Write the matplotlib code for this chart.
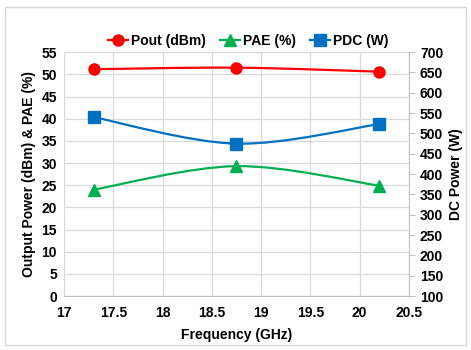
import matplotlib.pyplot as plt
from matplotlib.path import Path
from matplotlib.patches import PathPatch, FancyBboxPatch
from matplotlib.lines import Line2D
import numpy as np

plt.rcParams['font.family'] = ['Liberation Sans', 'DejaVu Sans']
plt.rcParams['font.weight'] = 'bold'
plt.rcParams['axes.labelweight'] = 'bold'

freq = [17.3, 18.75, 20.2]
pout = [51.15, 51.5, 50.6]
pae = [24.0, 29.3, 24.9]
pdc = [540, 475, 523]

xticks = [17, 17.5, 18, 18.5, 19, 19.5, 20, 20.5]
xlabels = ['17', '17.5', '18', '18.5', '19', '19.5', '20', '20.5']
yticks = list(range(0, 56, 5))
y2ticks = list(range(100, 701, 50))

red = '#FF0000'
green = '#00B050'
blue = '#0070C0'
grid_c = '#D9D9D9'


def smooth_path(x, y, t=1/6.):
    # excel style smoothed line: bezier segments with catmull-rom control points
    x = np.asarray(x, float); y = np.asarray(y, float)
    n = len(x)
    verts = [(x[0], y[0])]
    codes = [Path.MOVETO]
    for i in range(n - 1):
        x0, y0 = (x[i-1], y[i-1]) if i > 0 else (x[i], y[i])
        x3, y3 = (x[i+2], y[i+2]) if i + 2 < n else (x[i+1], y[i+1])
        c1 = (x[i] + (x[i+1] - x0) * t, y[i] + (y[i+1] - y0) * t)
        c2 = (x[i+1] - (x3 - x[i]) * t, y[i+1] - (y3 - y[i]) * t)
        verts += [c1, c2, (x[i+1], y[i+1])]
        codes += [Path.CURVE4] * 3
    return Path(verts, codes)


fig = plt.figure(figsize=(4.71, 3.5), dpi=100)
fig.patches.append(FancyBboxPatch((0.011, 0.014), 0.978, 0.966, boxstyle='square,pad=0',
                                  transform=fig.transFigure, fill=False,
                                  edgecolor='#D9D9D9', linewidth=1))
ax = fig.add_axes([0.136, 0.154, 0.732, 0.697])
ax2 = ax.twinx()

ax.set_xlim(17, 20.5)
ax.set_ylim(0, 55)
ax2.set_ylim(100, 700)
tkw = dict(fontweight='bold', fontsize=10)
ax.set_xticks(xticks, xlabels, **tkw)
ax.set_yticks(yticks, [str(v) for v in yticks], **tkw)
ax2.set_yticks(y2ticks, [str(v) for v in y2ticks], **tkw)

ax.grid(True, color=grid_c, linewidth=0.9)
ax.set_axisbelow(True)
for s in ['top', 'left', 'right']:
    ax.spines[s].set_visible(False)
for s in ['top', 'left', 'bottom']:
    ax2.spines[s].set_visible(False)
ax.spines['bottom'].set_color('#BFBFBF')
ax2.spines['right'].set_color('#BFBFBF')

ax.tick_params(axis='x', length=0, pad=7)
ax.tick_params(axis='y', length=0, pad=5)
ax2.tick_params(axis='y', length=4, color='#BFBFBF', pad=4)

lw = 1.6
ax.add_patch(PathPatch(smooth_path(freq, pout), fill=False, edgecolor=red, lw=lw))
ax.add_patch(PathPatch(smooth_path(freq, pae), fill=False, edgecolor=green, lw=lw))
ax2.add_patch(PathPatch(smooth_path(freq, pdc), fill=False, edgecolor=blue, lw=lw))
ax.plot(freq, pout, 'o', color=red, ms=8, zorder=5)
ax.plot(freq, pae, '^', color=green, ms=8, zorder=5)
ax2.plot(freq, pdc, 's', color=blue, ms=8, zorder=5)

ax.set_xlabel('Frequency (GHz)', fontsize=10, labelpad=6)
ax.set_ylabel('Output Power (dBm) & PAE (%)', fontsize=10, labelpad=4)
ax2.set_ylabel('DC Power (W)', fontsize=10, labelpad=4)

handles = [Line2D([], [], color=red, marker='o', ms=8, lw=lw),
           Line2D([], [], color=green, marker='^', ms=8, lw=lw),
           Line2D([], [], color=blue, marker='s', ms=8, lw=lw)]
fig.legend(handles, ['Pout (dBm)', 'PAE (%)', 'PDC (W)'], loc='center',
           bbox_to_anchor=(0.527, 0.883), ncol=3, frameon=False,
           prop={'size': 10, 'weight': 'bold'},
           handlelength=1.45, handletextpad=0.2, columnspacing=1.0)

fig.savefig('out.png', dpi=100)
